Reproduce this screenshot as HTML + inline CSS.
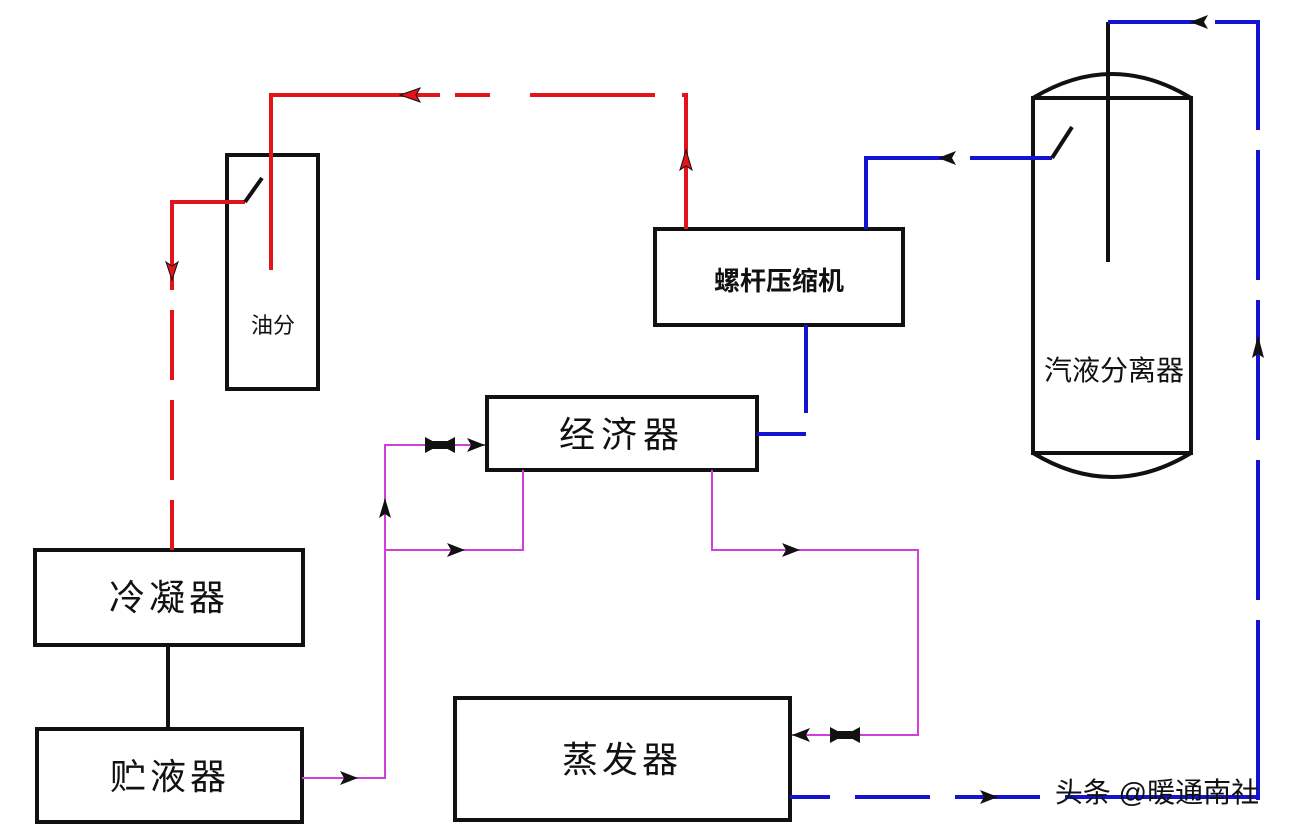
<!DOCTYPE html>
<html><head><meta charset="utf-8"><style>
html,body{margin:0;padding:0;background:#fff}
svg{display:block}
text{font-family:"Liberation Sans","Noto Sans CJK SC",sans-serif;fill:#111}
</style></head><body>
<svg width="1298" height="830" viewBox="0 0 1298 830">
<rect width="1298" height="830" fill="#fff"/>
<g fill="none" stroke="#111" stroke-width="4">
<rect x="227" y="155" width="91" height="234"/>
<rect x="487" y="397" width="270" height="73"/>
<rect x="655" y="229" width="248" height="96"/>
<rect x="1033" y="98" width="158" height="355"/>
<path d="M1033 98 Q1112 50 1191 98"/>
<path d="M1033 453 Q1112 501 1191 453"/>
<rect x="35" y="550" width="268" height="95"/>
<rect x="37" y="729" width="265" height="93"/>
<rect x="455" y="698" width="335" height="122"/>
<line x1="168" y1="645" x2="168" y2="729"/>
<line x1="1108" y1="262" x2="1108" y2="22"/>
</g>
<!-- red -->
<g fill="none" stroke="#e0141a" stroke-width="4">
<path d="M271 270 V95 H440"/>
<path d="M455 95 H490 M530 95 H655 M682 95 H686 V229"/>
<path d="M172 290 V202 H245"/>
<path d="M172 310 V380 M172 400 V480 M172 500 V550"/>
</g>
<path d="M245 202 L262 178" stroke="#111" stroke-width="4"/>
<polygon points="400,95 420,88 416,95 420,102" fill="#e0141a" stroke="#111" stroke-width="1"/>
<polygon points="686,150 680,170 686,166 692,170" fill="#e0141a" stroke="#111" stroke-width="1"/>
<polygon points="172,280 166,262 172,266 178,262" fill="#e0141a" stroke="#111" stroke-width="1"/>
<!-- blue -->
<g fill="none" stroke="#1414d0" stroke-width="4">
<path d="M866 229 V158 H945"/>
<path d="M970 158 H1052"/>
<path d="M1108 22 H1195 M1215 22 H1258 V130 M1258 150 V280 M1258 300 V440 M1258 460 V600 M1258 620 V800"/>
<path d="M806 325 V413 M757 434 H806"/>
<path d="M790 797 H830 M855 797 H930 M955 797 H1040 M1065 797 H1258"/>
</g>
<path d="M1052 158 L1072 127" stroke="#111" stroke-width="4"/>
<polygon points="938,158 956,151 952,158 956,165" fill="#111"/>
<polygon points="1190,22 1208,15 1204,22 1208,29" fill="#111"/>
<polygon points="1258,335 1252,358 1258,354 1264,358" fill="#111"/>
<polygon points="998,797 980,790 984,797 980,804" fill="#111"/>
<!-- magenta -->
<g fill="none" stroke="#d040d8" stroke-width="2">
<path d="M302 778 H385 V445 H485"/>
<path d="M385 550 H523 V470"/>
<path d="M712 470 V550 H918 V735 H792"/>
</g>
<polygon points="358,778 340,771 344,778 340,785" fill="#111"/>
<polygon points="385,498 379,518 385,514 391,518" fill="#111"/>
<polygon points="485,445 467,438 471,445 467,452" fill="#111"/>
<polygon points="465,550 447,543 451,550 447,557" fill="#111"/>
<polygon points="800,550 782,543 786,550 782,557" fill="#111"/>
<polygon points="792,735 810,728 806,735 810,742" fill="#111"/>
<polygon points="425,437 425,453 455,437 455,453" fill="#111"/>
<rect x="433" y="441" width="14" height="8" fill="#111"/>
<polygon points="830,727 830,743 860,727 860,743" fill="#111"/>
<rect x="838" y="731" width="14" height="8" fill="#111"/>
<!-- labels -->
<text x="273" y="333" font-size="22" text-anchor="middle">油分</text>
<text x="622" y="447" font-size="36" text-anchor="middle" letter-spacing="6">经济器</text>
<text x="779" y="290" font-size="26" text-anchor="middle" font-weight="bold">螺杆压缩机</text>
<text x="1114" y="380" font-size="28" text-anchor="middle">汽液分离器</text>
<text x="169" y="610" font-size="36" text-anchor="middle" letter-spacing="4">冷凝器</text>
<text x="170" y="789" font-size="36" text-anchor="middle" letter-spacing="4">贮液器</text>
<text x="622" y="772" font-size="36" text-anchor="middle" letter-spacing="4">蒸发器</text>
<text x="1157" y="802" font-size="28" text-anchor="middle" fill="#222">头条 @暖通南社</text>
</svg>
</body></html>
